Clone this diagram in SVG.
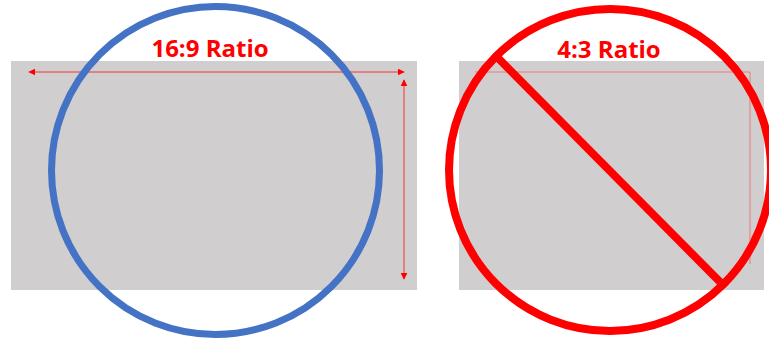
<svg xmlns="http://www.w3.org/2000/svg" width="769" height="339" viewBox="0 0 769 339">
<style>
.screen{fill:#d0cece}
.dim{stroke:#ff0000;stroke-width:0.75;fill:none}
.dimr{stroke:#f06060;stroke-width:0.75;fill:none}
.lbl{font-family:"Open Sans","Noto Sans","Liberation Sans",sans-serif;font-weight:bold;font-size:24px;fill:#ff0000;text-anchor:middle}
</style>
<defs>
<marker id="ah" viewBox="0 0 10 10" refX="9" refY="5" markerWidth="7" markerHeight="7" orient="auto-start-reverse" markerUnits="userSpaceOnUse">
<path d="M0,0 L10,5 L0,10 z" fill="#ff0000"/>
</marker>
</defs>
<g id="left">
<rect class="screen" x="11" y="61" width="406" height="229"/>
<text class="lbl" x="210" y="57">16:9 Ratio</text>
</g>
<g id="right">
<rect class="screen" x="459" y="61" width="305" height="229"/>
<text class="lbl" x="609" y="58">4:3 Ratio</text>
</g>
<g id="connectors">
<line class="dim" x1="29" y1="72" x2="404" y2="72" marker-start="url(#ah)" marker-end="url(#ah)"/>
<line class="dim" x1="404" y1="80" x2="404" y2="279" marker-start="url(#ah)" marker-end="url(#ah)"/>
<line class="dimr" x1="475" y1="72" x2="750" y2="72"/>
<line class="dimr" x1="750" y1="72" x2="750" y2="264"/>
</g>
<g id="blue-circle">
<circle cx="215.5" cy="170.5" r="164" fill="none" stroke="#4472c4" stroke-width="7"/>
</g>
<g id="red-sign">
<circle cx="610" cy="170" r="161" fill="none" stroke="#ff0000" stroke-width="8"/>
<line x1="497" y1="57" x2="725" y2="287" stroke="#ff0000" stroke-width="8"/>
</g>
</svg>
